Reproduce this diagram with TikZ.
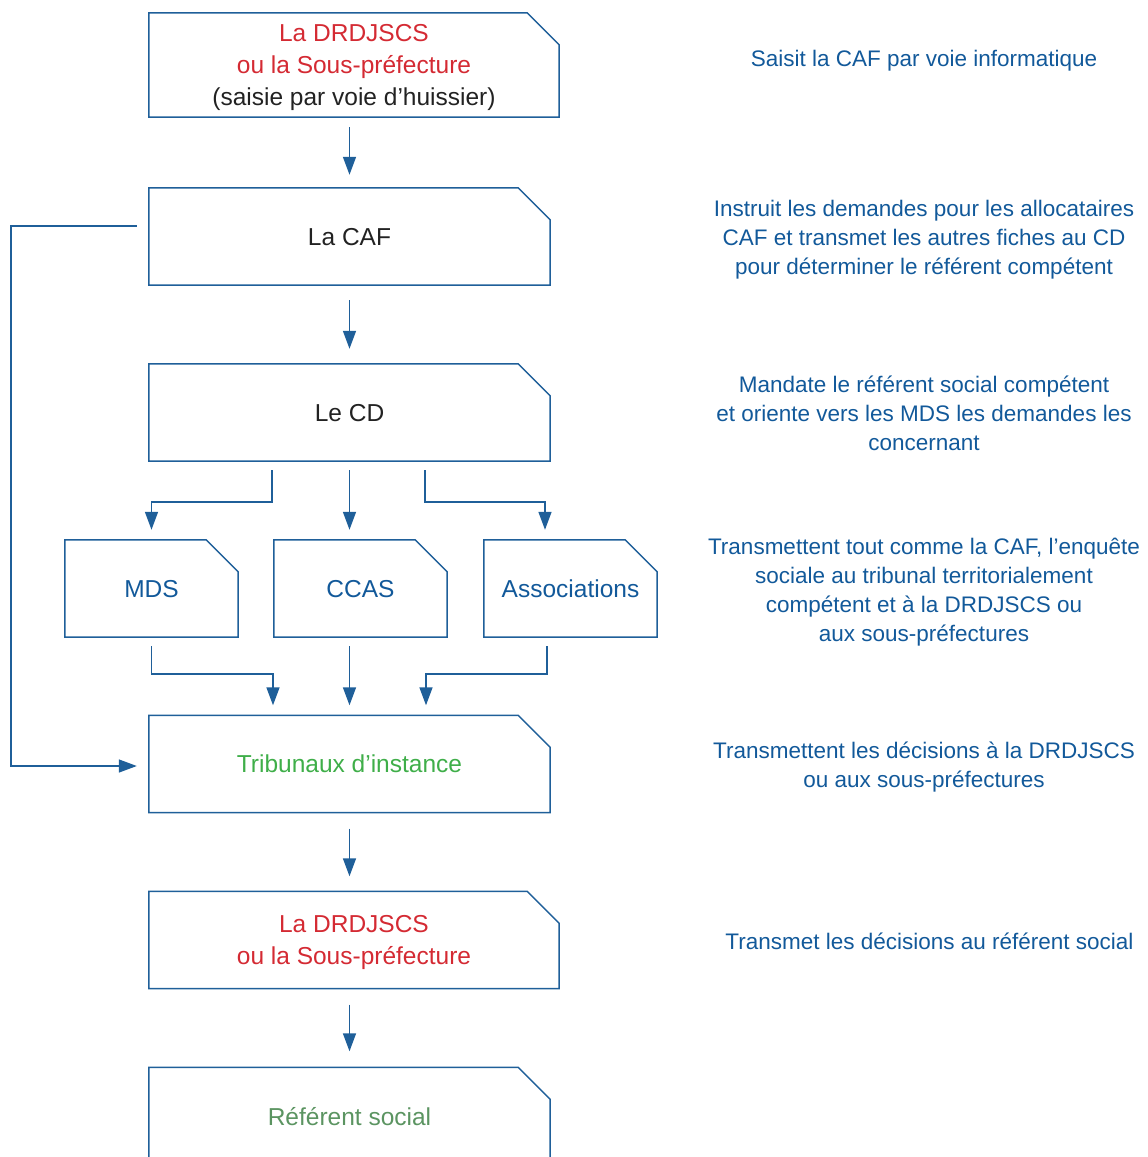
\documentclass[tikz,border=0pt]{standalone}
\usepackage{fontspec}
\setmainfont{Liberation Sans}
\usetikzlibrary{positioning,arrows.meta}
\definecolor{lineblue}{HTML}{1F5F99}
\definecolor{textblue}{HTML}{12599A}
\definecolor{drdred}{HTML}{D42A33}
\definecolor{tribgreen}{HTML}{3FAE49}
\definecolor{refgreen}{HTML}{5B9461}
\definecolor{darktext}{HTML}{222222}

\begin{document}
\begin{tikzpicture}[x=1pt,y=-1pt,node distance=176pt,on grid,
    boxline/.style={draw=lineblue,line width=1.5pt,line join=miter},
    box/.style={rectangle,minimum width=401pt,minimum height=97pt,inner sep=0pt,
      align=center,text=darktext,text depth=0pt,font=\fontsize{24.5}{32}\selectfont,
      append after command={\pgfextra{\draw[boxline]
        (\tikzlastnode.south west) -- (\tikzlastnode.north west)
        -- ([xshift=-32pt]\tikzlastnode.north east)
        -- ([yshift=-32pt]\tikzlastnode.north east)
        -- (\tikzlastnode.south east) -- cycle;}}},
    smallbox/.style={box,minimum width=173pt,text=textblue},
    note/.style={text=textblue,align=center,text depth=0pt,font=\fontsize{22.5}{29}\selectfont},
    arr/.style={draw=lineblue,line width=1.5pt,-{Triangle[length=18pt,width=13pt]},
      shorten <=9pt,shorten >=10pt}]
\useasboundingbox (0,0) rectangle (1148,1157);
\node[box](caf) at (349.5,236.5) {La CAF};
\node[box,minimum width=410pt,minimum height=104pt](drd) [above=171.5pt of caf,xshift=4.5pt]
  {\textcolor{drdred}{La DRDJSCS}\\\textcolor{drdred}{ou la Sous-préfecture}\\(saisie par voie d’huissier)};
\node[box](cd) [below=of caf] {Le CD};
\node[smallbox](ccas) [below=of cd,xshift=11pt] {CCAS};
\node[smallbox](mds) [left=209pt of ccas] {MDS};
\node[smallbox](assoc) [right=210pt of ccas] {Associations};
\node[box,text=tribgreen](trib) [below=175.5pt of ccas,xshift=-11pt] {Tribunaux d’instance};
\node[box,minimum width=410pt,text=drdred](drd2) [below=of trib,xshift=4.5pt]
  {La DRDJSCS\\ou la Sous-préfecture};
\node[box,text=refgreen](ref) [below=of drd2,xshift=-4.5pt] {Référent social};
% notes on the right
\node[note](n1) at (924,58) {Saisit la CAF par voie informatique};
\node[note](n2) at (924,237) {Instruit les demandes pour les allocataires\\CAF et transmet les autres fiches au CD\\pour déterminer le référent compétent};
\node[note](n3) at (924,413) {Mandate le référent social compétent\\et oriente vers les MDS les demandes les\\concernant};
\node[note](n4) at (924,589.5) {Transmettent tout comme la CAF, l’enquête\\sociale au tribunal territorialement\\compétent et à la DRDJSCS ou\\aux sous-préfectures};
\node[note](n5) at (924,764.5) {Transmettent les décisions à la DRDJSCS\\ou aux sous-préfectures};
\node[note](n6) at (929.5,941) {Transmet les décisions au référent social};
% arrows
\draw[arr,shorten <=10pt,shorten >=13pt] (drd.south -| caf.north) -- (caf.north);
\draw[arr,shorten <=15pt,shorten >=15pt] (caf.south) -- (cd.north);
\draw[arr] (cd.south) -- (cd.south |- ccas.north);
\draw[arr] ([xshift=-77.5pt]cd.south) -- ++(0,41) -| (mds.north);
\draw[arr] ([xshift=75.5pt]cd.south) -- ++(0,41) -| ([xshift=-25.5pt]assoc.north);
\draw[arr] (mds.south) -- ++(0,37) -| ([xshift=-76.5pt]trib.north);
\draw[arr] (ccas.south -| trib.north) -- (trib.north);
\draw[arr] ([xshift=-23.5pt]assoc.south) -- ++(0,37) -| ([xshift=76.5pt]trib.north);
\draw[arr,shorten <=12pt,shorten >=12pt] ([yshift=10.5pt]caf.west) -- ++(-138,0) |- ([yshift=-2pt]trib.west);
\draw[arr,shorten <=16pt,shorten >=15pt] (trib.south) -- (trib.south |- drd2.north);
\draw[arr,shorten <=16pt,shorten >=16pt] (drd2.south -| ref.north) -- (ref.north);
\end{tikzpicture}
\end{document}
